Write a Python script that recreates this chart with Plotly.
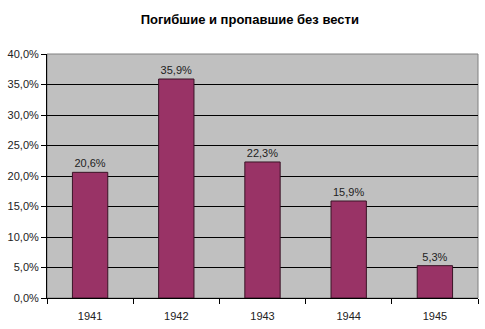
import plotly.graph_objects as go

years = ["1941", "1942", "1943", "1944", "1945"]
values = [0.206, 0.359, 0.223, 0.159, 0.053]
yticks = [0, 0.05, 0.10, 0.15, 0.20, 0.25, 0.30, 0.35, 0.40]

fig = go.Figure(go.Bar(
    x=years, y=values,
    marker=dict(color="#993366", line=dict(color="#3a1426", width=1)),
    texttemplate="%{y:.1%}", textposition="outside",
    textfont=dict(family="Liberation Sans, Arial", size=11, color="#222"),
    cliponaxis=False,
))

fig.update_layout(
    width=485, height=329,
    margin=dict(l=47, r=7, t=54, b=29),
    paper_bgcolor="white", plot_bgcolor="#C0C0C0",
    separators=",.",
    bargap=0.59,
    showlegend=False,
    title=dict(text="<b>Погибшие и пропавшие без вести</b>", x=0.515, xanchor="center",
               y=0.94, yanchor="middle",
               font=dict(family="Liberation Sans, Arial", size=13, color="black")),
    font=dict(family="Liberation Sans, Arial", size=11, color="#222"),
)
fig.update_yaxes(range=[0, 0.40], tickvals=yticks, tickformat=".1%",
                 showgrid=True, gridcolor="black", gridwidth=1,
                 showline=True, linecolor="black", linewidth=1,
                 ticks="outside", ticklen=5, tickcolor="black",
                 zeroline=False, mirror=False)
fig.update_xaxes(showline=True, linecolor="black", linewidth=1,
                 ticks="outside", ticklen=5, tickcolor="black",
                 tickson="boundaries", showgrid=False, ticklabelstandoff=8)
fig.add_shape(type="rect", xref="paper", yref="paper", x0=0, x1=1, y0=0, y1=1,
              line=dict(color="#808080", width=1), layer="below")

fig.write_html("out.html")
